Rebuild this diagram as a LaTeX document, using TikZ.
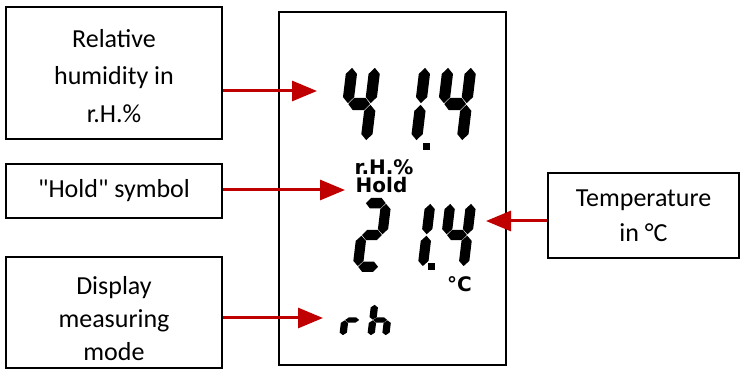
\documentclass[tikz,border=0pt]{standalone}
\usepackage{fontspec}
\setmainfont{Carlito}[Ligatures=TeXOff]
\newfontfamily\lcdfont{DejaVu Sans}
\usetikzlibrary{arrows.meta, positioning}

\definecolor{pointred}{HTML}{C00000}

% seven segment pieces, a digit is 1 wide and 2 high
\newcommand{\hseg}[1]{(0.18,#1) -- (0.33,#1+0.14) -- (0.67,#1+0.14) -- (0.82,#1) -- (0.67,#1-0.14) -- (0.33,#1-0.14) -- cycle}
\newcommand{\vseg}[3]{(#1,#2+0.02) -- (#1+0.165,#2+0.16) -- (#1+0.165,#3-0.16) -- (#1,#3-0.02) -- (#1-0.165,#3-0.16) -- (#1-0.165,#2+0.16) -- cycle}
\newcommand{\sega}{\hseg{1.86}}
\newcommand{\segb}{\vseg{0.835}{1}{1.86}}
\newcommand{\segc}{\vseg{0.835}{0.14}{1}}
\newcommand{\segd}{\hseg{0.14}}
\newcommand{\sege}{\vseg{0.165}{0.14}{1}}
\newcommand{\segf}{\vseg{0.165}{1}{1.86}}
\newcommand{\segg}{\hseg{1}}

\tikzset{
    pics/lcd/.style={code={
        \foreach \s in {#1} {\fill[lcdseg] \csname seg\s\endcsname;}
    }}
}

\begin{document}
\begin{tikzpicture}[
    x=0.5pt, y=0.5pt,
    callout/.style={rectangle, draw=black, line width=0.75pt, inner sep=0pt},
    callouttext/.style={align=center, inner sep=0pt, font=\fontsize{13}{#1}\selectfont},
    lcdpanel/.style={rectangle, draw=black, line width=1pt, minimum width=113.5pt, minimum height=176.5pt},
    lcdtext/.style={font=\lcdfont\bfseries\fontsize{10}{11}\selectfont, inner sep=0pt},
    lcdseg/.style={fill=black},
    bigdigit/.style={xslant=0.12, xscale=34, yscale=43},
    middigit/.style={xslant=0.12, xscale=31, yscale=37},
    modedigit/.style={xslant=0.12, xscale=22, yscale=18},
    pointer/.style={-{Triangle[length=12.5pt, width=10pt]}, line width=1.5pt, draw=pointred}
]

\useasboundingbox (0,0) rectangle (740,370);

% Callouts on the left
\node[callout, minimum width=108pt, minimum height=66pt] (humid) at (114,297) {};
\node[callouttext=18.75pt] (humidtext) at ([yshift=-1.5pt]humid.center) {Relative\\humidity in\\r.H.\%};
\node[callout, minimum width=108pt, minimum height=27pt] (hold) at (114,179) {};
\node[callouttext=18.5pt] (holdtext) at (hold.center) {"Hold" symbol};
\node[callout, minimum width=108pt, minimum height=55.5pt] (mode) at (114,57.5) {};
\node[callouttext=16.5pt] (modetext) at ([yshift=-3.25pt]mode.center) {Display\\measuring\\mode};

% Callout on the right
\node[callout, minimum width=95.5pt, minimum height=42.5pt] (temp) at (643.5,154.5) {};
\node[callouttext=17.5pt] (temptext) at (temp.center) {Temperature\\in °C};

% Display panel
\node[lcdpanel] (lcd) at (392.5,181.5) {};

% Humidity reading 41.4
\pic[bigdigit] at (337,223) {lcd={f,g,b,c}};
\pic[bigdigit] at (410,223) {lcd={e,f}};
\pic[bigdigit] at (433,223) {lcd={f,g,b,c}};
\fill (423,220) rectangle (430,227);

% Symbols
\node[lcdtext] (rhunit) at (384,203) {r.H.\%};
\node[lcdtext] (holdsym) at (381.5,185) {Hold};

% Temperature reading 21.4
\pic[middigit] at (352,98) {lcd={a,b,g,e,d}};
\pic[middigit] at (417,98) {lcd={e,f}};
\pic[middigit] at (437,98) {lcd={f,g,b,c}};
\fill (428,100) rectangle (435,107);
\node[lcdtext] (degc) at (459.5,86) {°C};

% Mode rh
\pic[modedigit] at (339,32) {lcd={e,g}};
\pic[modedigit] at (367,32) {lcd={f,e,g,c}};

% Arrow tips
\coordinate (humidtip) at (317,279);
\coordinate (holdtip) at (345,180);
\coordinate (modetip) at (323,52);
\coordinate (temptip) at (486,149);

% Arrows
\draw[pointer] (humid.east |- humidtip) -- (humidtip);
\draw[pointer] (hold.east |- holdtip) -- (holdtip);
\draw[pointer] (mode.east |- modetip) -- (modetip);
\draw[pointer] (temp.west |- temptip) -- (temptip);

\end{tikzpicture}
\end{document}
